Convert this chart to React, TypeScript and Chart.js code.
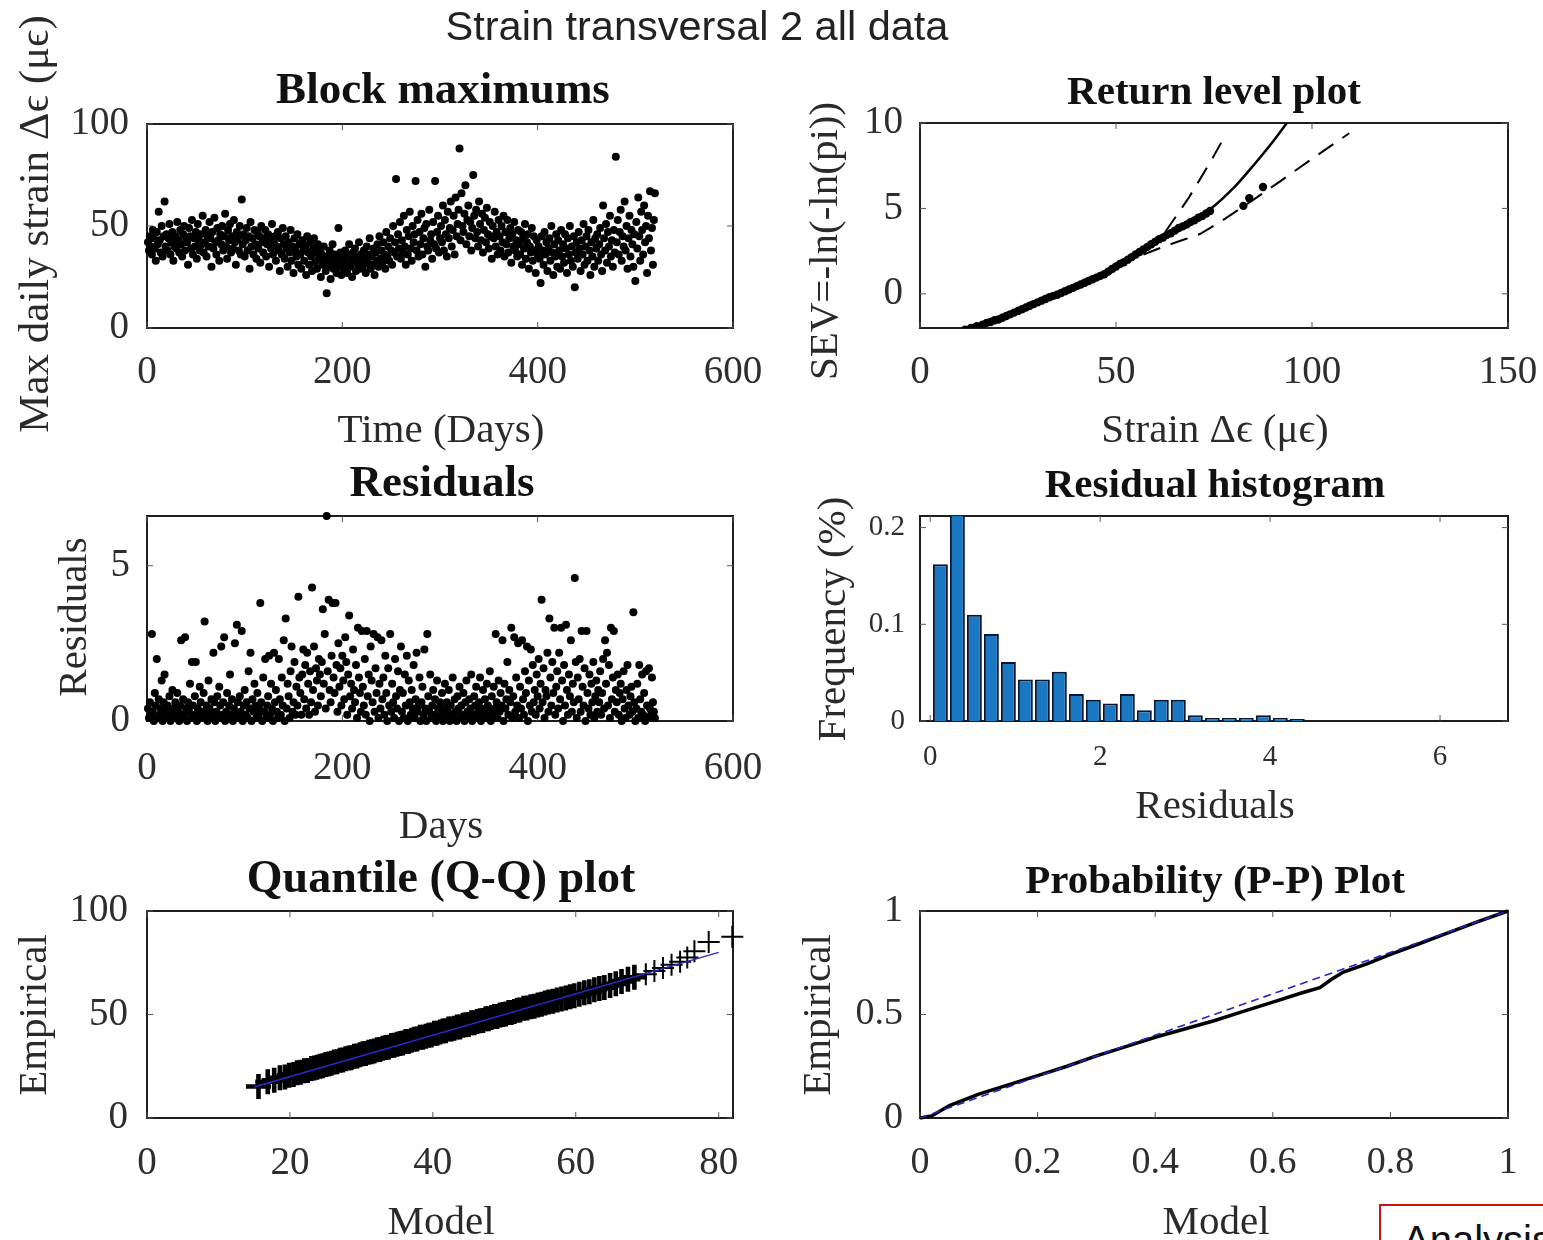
import React, { useEffect, useRef } from 'react';
import { Chart, registerables } from 'chart.js';

Chart.register(...registerables);

const SERIF = '"Liberation Serif", "Times New Roman", Times, serif';
const SANS = '"Liberation Sans", Arial, Helvetica, sans-serif';
const TICK_COLOR = '#2e2e2e';
const LABEL_COLOR = '#2a2a2a';

// ---------------- Block maximums (max daily strain per day) ----------------
const blockMaxValues: number[] = [
  42,38,45,40,36,48,44,39,33,47,41,57,43,37,50,35,45,62,40,46,
  38,44,51,36,42,47,33,40,45,39,52,43,37,48,41,35,46,50,38,44,
  42,31,49,45,39,53,36,44,40,47,34,51,43,38,46,41,55,37,42,48,
  35,45,40,52,44,30,47,39,54,42,36,49,43,33,46,41,50,38,45,56,
  40,34,48,43,51,37,45,39,53,42,31,47,44,38,50,36,63,41,46,35,
  43,49,38,45,29,52,40,44,36,48,41,34,47,39,45,32,50,42,37,44,
  48,35,41,46,30,43,39,51,36,42,45,33,40,47,38,28,44,36,49,41,
  34,45,39,30,42,37,48,33,40,27,44,38,35,46,31,41,36,29,43,38,
  33,40,26,45,37,31,42,35,28,39,44,32,37,29,41,34,38,25,36,31,
  40,33,28,17,35,30,38,24,33,41,29,36,31,27,34,49,30,37,26,32,
  35,29,38,32,27,36,41,30,34,25,37,33,39,28,35,31,42,29,36,33,
  30,38,34,27,40,32,36,44,29,35,31,39,26,37,33,41,30,45,34,38,
  32,42,36,29,47,35,40,33,44,38,31,50,37,42,73,35,46,39,52,34,
  43,37,55,40,31,48,36,45,57,39,33,50,42,46,72,38,53,35,47,41,
  56,36,44,49,30,51,40,38,58,43,46,34,52,41,72,39,47,55,37,44,
  50,42,60,38,53,46,35,57,44,49,62,40,48,55,36,64,45,51,58,88,
  43,66,50,47,56,70,41,53,60,45,52,38,49,75,55,44,58,47,40,62,
  51,43,56,37,48,54,42,59,46,39,52,45,34,50,44,57,40,47,36,53,
  45,38,50,42,55,35,47,41,53,37,44,49,32,46,40,52,38,43,35,48,
  41,36,47,31,44,39,51,34,42,46,29,40,37,49,33,45,38,27,43,36,
  40,34,22,45,38,31,47,36,42,28,39,44,33,50,37,26,41,35,46,30,
  43,38,29,48,35,41,32,46,39,27,44,36,50,33,40,30,45,20,37,42,
  34,47,39,28,43,36,51,31,40,45,33,48,38,26,42,35,53,30,44,39,
  46,33,41,49,36,28,60,44,38,51,32,47,40,55,35,43,30,48,37,84,
  42,53,36,47,58,33,45,40,62,38,50,29,44,55,35,48,41,30,46,23,
  52,39,64,45,33,57,48,36,60,42,50,27,55,44,67,38,49,31,53,66,
];

// ---------------- Residuals per day ----------------
const residualValues: number[] = [
  0.4,0.1,0.6,0.2,2.8,0.3,0.0,0.9,0.5,2.0,0.1,0.7,0.2,0.4,1.3,0.0,0.6,1.5,0.3,0.1,
  0.5,0.2,0.8,0.0,0.3,1.0,0.4,0.1,0.6,0.2,0.9,0.3,0.0,0.5,2.6,0.2,0.7,0.1,2.7,0.4,
  0.0,0.6,0.3,1.2,0.1,1.9,0.5,0.2,0.8,1.9,0.0,0.4,0.2,1.1,0.6,0.1,0.3,0.9,3.2,0.2,
  0.5,0.0,1.3,0.4,0.1,0.7,0.2,2.2,0.6,0.0,0.3,0.8,0.1,1.1,0.5,2.4,0.2,0.6,2.7,0.0,
  0.3,0.9,0.1,0.5,1.5,0.2,0.7,0.0,0.4,2.5,0.2,3.1,0.6,0.1,0.8,0.3,2.9,0.0,0.5,1.0,
  0.2,0.6,0.1,1.6,0.4,2.2,0.0,0.7,0.3,1.2,0.5,0.1,0.9,0.2,0.4,3.8,0.6,0.0,1.4,0.3,
  2.0,0.1,0.5,0.8,2.1,0.2,1.2,0.4,0.0,2.2,0.6,1.0,0.3,0.1,2.0,0.7,0.2,1.4,0.5,2.6,
  0.0,3.3,0.4,1.2,0.8,0.1,1.6,2.4,0.3,0.6,1.9,0.2,1.1,0.5,4.0,1.4,0.9,0.2,1.5,2.3,
  0.7,1.8,0.4,2.2,1.2,0.2,1.6,0.6,4.3,1.0,2.4,0.3,1.7,1.3,0.5,2.0,1.5,0.8,1.9,3.6,
  1.2,2.8,0.4,6.6,1.6,3.9,1.0,0.6,2.1,3.8,1.4,0.9,3.8,1.8,0.3,2.5,1.1,1.7,0.5,2.1,
  1.3,0.7,2.7,1.9,0.2,1.5,3.4,0.8,1.2,0.4,2.3,1.0,0.6,1.8,0.1,3.0,1.4,0.9,0.3,2.9,
  1.1,0.5,2.0,0.2,2.9,0.8,1.5,0.0,2.4,1.3,0.6,2.8,0.3,1.7,0.9,2.7,0.1,1.2,0.4,2.6,
  0.7,1.4,0.2,2.1,0.9,0.0,1.7,0.5,2.8,0.3,1.2,0.6,0.1,2.0,0.8,0.4,1.6,0.0,1.0,2.4,
  0.3,0.9,0.1,1.5,0.5,2.1,0.0,1.3,0.6,0.2,1.0,0.4,1.8,0.1,0.7,2.2,0.3,0.5,1.4,0.0,
  0.6,1.1,0.2,2.3,0.4,0.0,2.8,0.8,0.3,1.5,0.1,0.5,1.0,0.2,0.7,0.0,1.3,0.4,0.1,0.6,
  0.2,0.9,0.0,0.4,1.2,0.1,0.6,0.3,1.0,0.0,0.5,0.2,1.4,0.1,0.7,0.3,0.0,0.8,0.4,1.1,
  0.1,0.5,0.2,0.9,0.0,0.6,1.3,0.3,0.1,0.7,0.4,1.5,0.0,0.2,0.8,0.5,1.1,0.1,0.3,0.6,
  1.4,0.0,0.4,1.0,0.2,0.7,0.1,1.2,0.5,0.3,1.6,0.0,0.8,0.2,1.1,0.4,2.8,0.6,0.1,1.3,
  0.3,0.9,0.5,2.6,0.0,1.2,0.4,0.7,1.9,0.2,1.0,0.6,3.0,0.1,0.8,2.7,0.3,1.4,0.5,2.5,
  0.1,1.1,0.4,2.6,0.7,0.2,1.6,0.9,2.4,0.0,1.3,0.5,2.3,0.3,1.8,0.6,1.0,0.2,1.5,0.8,
  2.0,0.4,1.2,3.9,0.6,1.7,0.1,1.0,0.8,2.2,0.3,3.3,1.4,0.5,1.9,0.9,3.0,0.2,1.1,1.6,
  0.4,2.2,0.7,3.0,1.3,0.0,1.8,0.5,3.1,1.0,0.2,1.5,0.8,2.6,0.3,1.2,0.6,4.6,1.9,0.1,
  1.4,0.7,2.0,0.3,2.9,1.1,0.5,1.7,0.0,2.9,0.9,0.4,1.5,0.2,1.2,0.6,1.9,0.1,0.8,1.3,
  0.3,1.0,0.6,1.6,0.2,0.9,2.0,0.4,2.6,1.2,2.2,0.5,1.8,0.1,3.0,0.7,1.4,2.9,0.3,1.0,
  0.6,1.5,0.2,0.9,1.2,0.0,0.7,1.6,0.4,0.1,1.0,1.8,0.5,0.2,0.8,1.1,0.3,3.5,0.6,0.0,
  0.4,1.2,0.1,1.8,0.7,0.3,1.5,0.2,0.9,0.0,1.6,0.5,0.1,1.7,0.4,0.2,1.4,0.6,0.3,0.1,
];

// ---------------- Return level plot ----------------
const rlEmpX: number[] = [11.5,13,14.5,16,17,18,19,20,21,22,23,24,25,26,27,28,29,30,31,32,33,34,35,36,37,38,39,40,41,42,43,44,45,46,47,48,49,50,51,52,53,54,55,56,57,58,59,60,61,62,63,64,65,66,67,68,69,70,71,72,73,74,82.5,84,87.5];
const rlEmpY: number[] = [-2.1,-2.0,-1.9,-1.8,-1.7,-1.65,-1.55,-1.5,-1.4,-1.3,-1.2,-1.1,-1.0,-0.9,-0.8,-0.7,-0.6,-0.5,-0.4,-0.3,-0.2,-0.12,-0.05,0.05,0.15,0.25,0.35,0.45,0.55,0.65,0.75,0.85,0.95,1.05,1.15,1.3,1.45,1.6,1.75,1.85,2.0,2.15,2.3,2.45,2.6,2.75,2.9,3.05,3.2,3.3,3.45,3.55,3.7,3.85,3.95,4.05,4.2,4.3,4.45,4.55,4.7,4.85,5.15,5.6,6.25];
const rlFitX: number[] = [10.5,20,30,40,50,60,67,74,80,85,90,95.5];
const rlFitY: number[] = [-2.2,-1.5,-0.55,0.45,1.6,3.0,3.95,4.95,6.2,7.5,8.9,10.6];
const rlUpperX: number[] = [57,60,62.5,65.8,68.5,71.4,74.3,77.2];
const rlUpperY: number[] = [2.55,3.1,3.6,4.7,5.6,6.7,7.8,9.0];
const rlLowerX: number[] = [57,62,67,71.4,76.5,85,92.6,100,109.5];
const rlLowerY: number[] = [2.3,2.75,3.15,3.5,4.2,5.5,6.7,7.9,9.4];

// ---------------- Residual histogram ----------------
const histCenters: number[] = [0.12,0.32,0.52,0.72,0.92,1.12,1.32,1.52,1.72,1.92,2.12,2.32,2.52,2.72,2.92,3.12,3.32,3.52,3.72,3.92,4.12,4.32];
const histFreq: number[] = [0.162,0.235,0.110,0.090,0.061,0.043,0.043,0.051,0.028,0.022,0.018,0.028,0.011,0.022,0.022,0.006,0.003,0.003,0.003,0.006,0.003,0.002];

// ---------------- Q-Q plot ----------------
const qqModel: number[] = [15.6,16.9,17.8,18.6,19.3,19.9,20.5,21.0,21.5,22.0,22.5,23.0,23.4,23.8,24.2,24.6,25.0,25.4,25.8,26.2,26.6,27.0,27.4,27.8,28.2,28.6,29.0,29.4,29.8,30.2,30.6,31.0,31.4,31.8,32.2,32.6,33.0,33.4,33.8,34.2,34.6,35.0,35.4,35.8,36.2,36.6,37.0,37.4,37.8,38.2,38.6,39.0,39.4,39.8,40.2,40.6,41.0,41.4,41.8,42.2,42.6,43.0,43.4,43.8,44.2,44.6,45.0,45.4,45.8,46.2,46.6,47.0,47.4,47.8,48.2,48.6,49.0,49.4,49.8,50.2,50.6,51.0,51.4,51.8,52.2,52.7,53.2,53.7,54.2,54.7,55.2,55.7,56.2,56.8,57.4,58.0,58.6,59.2,59.8,60.5,61.2,61.9,62.6,63.3,64.0,64.8,65.6,66.4,67.3,68.2,69.8,71.0,72.2,73.4,74.6,75.6,76.6,78.6,81.9];
const qqEmpirical: number[] = [15.2,17.5,18.2,19.4,19.8,20.6,21.0,21.9,22.1,22.8,23.0,23.9,24.1,24.5,25.0,25.2,25.9,26.1,26.5,27.0,27.2,27.9,28.0,28.6,29.0,29.1,29.8,30.0,30.5,31.0,31.1,31.8,32.0,32.4,33.0,33.1,33.7,34.0,34.2,35.0,35.1,35.6,36.0,36.2,37.0,37.0,37.6,38.0,38.2,39.0,39.0,39.5,40.0,40.1,41.0,41.0,41.5,42.0,42.1,43.0,43.0,43.4,44.0,44.0,44.8,45.0,45.2,46.0,46.0,46.6,47.0,47.1,47.9,48.0,48.5,49.0,49.0,49.7,50.0,50.2,51.0,51.0,51.5,52.0,52.2,53.0,53.1,53.8,54.0,54.6,55.0,55.5,56.0,56.4,57.0,57.5,58.0,58.6,59.0,59.8,60.5,61.0,62.0,62.6,63.0,64.0,64.8,66.0,67.0,68.0,69.5,71.0,72.5,74.0,75.5,77.5,80.5,85.0,87.6];
const qqRefX: number[] = [15, 80];
const qqRefY: number[] = [15, 80];

// ---------------- P-P plot ----------------
const ppModel: number[] = [0,0.02,0.05,0.1,0.15,0.2,0.25,0.3,0.35,0.4,0.45,0.5,0.55,0.6,0.65,0.68,0.7,0.72,0.76,0.8,0.85,0.9,0.95,1];
const ppEmpirical: number[] = [0,0.01,0.06,0.115,0.16,0.205,0.25,0.3,0.345,0.39,0.43,0.47,0.515,0.56,0.605,0.63,0.67,0.705,0.745,0.79,0.843,0.897,0.95,1];
const ppRefX: number[] = [0, 1];
const ppRefY: number[] = [0, 1];

// ---------------- Tick labels ----------------
const ticksDays: number[] = [0, 200, 400, 600];
const ticksStrainMax: number[] = [0, 50, 100];
const ticksStrain: number[] = [0, 50, 100, 150];
const ticksSEV: number[] = [0, 5, 10];
const ticksResid: number[] = [0, 5];
const ticksHistX: number[] = [0, 2, 4, 6];
const ticksHistY: number[] = [0, 0.1, 0.2];
const ticksQQX: number[] = [0, 20, 40, 60, 80];
const ticksQQY: number[] = [0, 50, 100];
const ticksPPX: number[] = [0, 0.2, 0.4, 0.6, 0.8, 1];
const ticksPPY: number[] = [0, 0.5, 1];

const pts = (xs: number[], ys: number[]) => xs.map((x, i) => ({ x, y: ys[i] }));
const days = blockMaxValues.map((_, i) => i + 1);
const residDays = residualValues.map((_, i) => i + 1);

type Spec = {
  key: string;
  canvas: { x: number; y: number; w: number; h: number };
  area: { L: number; T: number; R: number; B: number };
  type: 'scatter' | 'bar';
  datasets: any[];
  xRange: [number, number];
  xTicks: number[];
  yRange: [number, number];
  yTicks: number[];
  tickSize: number;
  xTickPad: number;
  yTickPad: number;
  title: string;
  titleSize: number;
  titlePos: [number, number];
  xLabel: string;
  xLabelPos: [number, number];
  yLabel: string;
  yLabelPos: [number, number];
  labelSize: number;
  yLabelSize?: number;
};

const YW = 100;
const XH = 70;

const dotSet = (data: any[]) => ({
  data,
  showLine: false,
  pointRadius: 4,
  pointHoverRadius: 4,
  pointBackgroundColor: '#000',
  pointBorderWidth: 0,
  clip: false,
});

const specs: Spec[] = [
  {
    key: 'block',
    canvas: { x: 0, y: 0, w: 800, h: 455 },
    area: { L: 147, T: 124, R: 733, B: 328 },
    type: 'scatter',
    datasets: [dotSet(pts(days, blockMaxValues))],
    xRange: [0, 600], xTicks: ticksDays,
    yRange: [0, 100], yTicks: ticksStrainMax,
    tickSize: 39, xTickPad: 21, yTickPad: 18,
    title: 'Block maximums', titleSize: 45, titlePos: [443, 103],
    xLabel: 'Time (Days)', xLabelPos: [441, 442],
    yLabel: 'Max daily strain \u0394\u03F5 (\u03BC\u03F5)', yLabelPos: [48, 224],
    labelSize: 41, yLabelSize: 43,
  },
  {
    key: 'return',
    canvas: { x: 775, y: 0, w: 800, h: 455 },
    area: { L: 920, T: 123, R: 1508, B: 328 },
    type: 'scatter',
    datasets: [
      { data: pts(rlEmpX, rlEmpY), showLine: false, pointRadius: 4.2, pointBackgroundColor: '#000', pointBorderWidth: 0 },
      { data: pts(rlFitX, rlFitY), showLine: true, borderColor: '#000', borderWidth: 2.5, pointRadius: 0, tension: 0.3 },
      { data: pts(rlUpperX, rlUpperY), showLine: true, borderColor: '#000', borderWidth: 2, borderDash: [18, 11], pointRadius: 0 },
      { data: pts(rlLowerX, rlLowerY), showLine: true, borderColor: '#000', borderWidth: 2, borderDash: [18, 11], pointRadius: 0 },
    ],
    xRange: [0, 150], xTicks: ticksStrain,
    yRange: [-2, 10], yTicks: ticksSEV,
    tickSize: 39, xTickPad: 21, yTickPad: 17,
    title: 'Return level plot', titleSize: 41, titlePos: [1214, 104],
    xLabel: 'Strain \u0394\u03F5 (\u03BC\u03F5)', xLabelPos: [1215, 442],
    yLabel: 'SEV=-ln(-ln(pi))', yLabelPos: [837, 241],
    labelSize: 41,
  },
  {
    key: 'resid',
    canvas: { x: 0, y: 455, w: 800, h: 395 },
    area: { L: 147, T: 516, R: 733, B: 721 },
    type: 'scatter',
    datasets: [dotSet(pts(residDays, residualValues))],
    xRange: [0, 600], xTicks: ticksDays,
    yRange: [0, 6.6], yTicks: ticksResid,
    tickSize: 39, xTickPad: 24, yTickPad: 17,
    title: 'Residuals', titleSize: 45, titlePos: [442, 496],
    xLabel: 'Days', xLabelPos: [441, 838],
    yLabel: 'Residuals', yLabelPos: [86, 617],
    labelSize: 41,
  },
  {
    key: 'hist',
    canvas: { x: 775, y: 455, w: 800, h: 395 },
    area: { L: 920, T: 516, R: 1508, B: 721 },
    type: 'bar',
    datasets: [
      {
        data: pts(histCenters, histFreq),
        backgroundColor: '#1a78c2',
        borderColor: '#0a1530',
        borderWidth: 2,
        barPercentage: 0.88,
        categoryPercentage: 1,
      },
    ],
    xRange: [-0.12, 6.8], xTicks: ticksHistX,
    yRange: [0, 0.212], yTicks: ticksHistY,
    tickSize: 29, xTickPad: 19, yTickPad: 15,
    title: 'Residual histogram', titleSize: 41, titlePos: [1215, 497],
    xLabel: 'Residuals', xLabelPos: [1215, 818],
    yLabel: 'Frequency (%)', yLabelPos: [845, 619],
    labelSize: 41,
  },
  {
    key: 'qq',
    canvas: { x: 0, y: 850, w: 800, h: 390 },
    area: { L: 147, T: 911, R: 733, B: 1118 },
    type: 'scatter',
    datasets: [
      { data: pts(qqRefX, qqRefY), showLine: true, borderColor: '#2a2ad0', borderWidth: 1.5, pointRadius: 0 },
      {
        data: pts(qqModel, qqEmpirical),
        showLine: false,
        pointStyle: 'cross',
        pointRadius: (c: any) => (c.raw && c.raw.x > 69 ? 11 : 12.5),
        pointBorderColor: '#000',
        pointBorderWidth: (c: any) => (c.raw && c.raw.x > 69 ? 2 : 4.6),
        clip: false,
      },
    ],
    xRange: [0, 82], xTicks: ticksQQX,
    yRange: [0, 100], yTicks: ticksQQY,
    tickSize: 39, xTickPad: 22, yTickPad: 19,
    title: 'Quantile (Q-Q) plot', titleSize: 46, titlePos: [441, 892],
    xLabel: 'Model', xLabelPos: [441, 1234],
    yLabel: 'Empirical', yLabelPos: [46, 1015],
    labelSize: 41,
  },
  {
    key: 'pp',
    canvas: { x: 775, y: 850, w: 800, h: 390 },
    area: { L: 920, T: 911, R: 1508, B: 1118 },
    type: 'scatter',
    datasets: [
      { data: pts(ppRefX, ppRefY), showLine: true, borderColor: '#2424c8', borderWidth: 1.6, borderDash: [8, 5], pointRadius: 0 },
      { data: pts(ppModel, ppEmpirical), showLine: true, borderColor: '#000', borderWidth: 3.5, pointRadius: 0, clip: false },
    ],
    xRange: [0, 1], xTicks: ticksPPX,
    yRange: [0, 1], yTicks: ticksPPY,
    tickSize: 38, xTickPad: 22, yTickPad: 17,
    title: 'Probability (P-P) Plot', titleSize: 41, titlePos: [1215, 893],
    xLabel: 'Model', xLabelPos: [1216, 1234],
    yLabel: 'Empirical', yLabelPos: [830, 1015],
    labelSize: 41,
  },
];

function axisOptions(spec: Spec, isX: boolean) {
  const range = isX ? spec.xRange : spec.yRange;
  const ticks = isX ? spec.xTicks : spec.yTicks;
  return {
    type: 'linear',
    position: isX ? 'bottom' : 'left',
    min: range[0],
    max: range[1],
    offset: false,
    afterBuildTicks: (s: any) => {
      s.ticks = ticks.map((v) => ({ value: v }));
    },
    afterFit: (s: any) => {
      if (isX) s.height = XH;
      else s.width = YW;
    },
    grid: { display: false, drawTicks: false },
    border: { display: false },
    ticks: {
      autoSkip: false,
      maxRotation: 0,
      minRotation: 0,
      padding: isX ? spec.xTickPad : spec.yTickPad,
      color: TICK_COLOR,
      font: { family: SERIF, size: spec.tickSize },
      callback: (v: any) => String(v),
    },
  };
}

function decorPlugin(spec: Spec) {
  return {
    id: 'decor_' + spec.key,
    beforeDatasetsDraw(chart: any) {
      const { ctx, chartArea: a, scales } = chart;
      ctx.save();
      ctx.strokeStyle = '#1e1e1e';
      ctx.lineWidth = 2;
      ctx.strokeRect(a.left, a.top, a.right - a.left, a.bottom - a.top);
      ctx.strokeStyle = '#555';
      ctx.lineWidth = 1;
      ctx.beginPath();
      for (const v of spec.xTicks) {
        const px = scales.x.getPixelForValue(v);
        ctx.moveTo(px, a.bottom);
        ctx.lineTo(px, a.bottom - 6);
        ctx.moveTo(px, a.top);
        ctx.lineTo(px, a.top + 6);
      }
      for (const v of spec.yTicks) {
        const py = scales.y.getPixelForValue(v);
        ctx.moveTo(a.left, py);
        ctx.lineTo(a.left + 6, py);
        ctx.moveTo(a.right, py);
        ctx.lineTo(a.right - 6, py);
      }
      ctx.stroke();
      ctx.restore();
    },
    afterDraw(chart: any) {
      const ctx = chart.ctx;
      const ox = spec.canvas.x;
      const oy = spec.canvas.y;
      ctx.save();
      ctx.textAlign = 'center';
      ctx.textBaseline = 'alphabetic';
      ctx.fillStyle = '#111';
      ctx.font = `bold ${spec.titleSize}px ${SERIF}`;
      ctx.fillText(spec.title, spec.titlePos[0] - ox, spec.titlePos[1] - oy);
      ctx.fillStyle = LABEL_COLOR;
      ctx.font = `${spec.labelSize}px ${SERIF}`;
      ctx.fillText(spec.xLabel, spec.xLabelPos[0] - ox, spec.xLabelPos[1] - oy);
      ctx.font = `${spec.yLabelSize || spec.labelSize}px ${SERIF}`;
      ctx.translate(spec.yLabelPos[0] - ox, spec.yLabelPos[1] - oy);
      ctx.rotate(-Math.PI / 2);
      ctx.fillText(spec.yLabel, 0, 0);
      ctx.restore();
    },
  };
}

function buildConfig(spec: Spec): any {
  const { canvas: c, area: a } = spec;
  return {
    type: spec.type,
    data: { datasets: spec.datasets },
    options: {
      animation: false,
      responsive: false,
      maintainAspectRatio: false,
      devicePixelRatio: 1,
      events: [],
      layout: {
        padding: {
          left: a.L - c.x - YW,
          top: a.T - c.y,
          right: c.x + c.w - a.R,
          bottom: c.y + c.h - a.B - XH,
        },
      },
      plugins: {
        legend: { display: false },
        tooltip: { enabled: false },
        title: { display: false },
      },
      scales: {
        x: axisOptions(spec, true),
        y: axisOptions(spec, false),
      },
    },
    plugins: [decorPlugin(spec)],
  };
}

function Panel({ spec }: { spec: Spec }) {
  const ref = useRef<HTMLCanvasElement | null>(null);
  useEffect(() => {
    if (!ref.current) return;
    const chart = new Chart(ref.current, buildConfig(spec));
    return () => chart.destroy();
  }, [spec]);
  return (
    <canvas
      ref={ref}
      width={spec.canvas.w}
      height={spec.canvas.h}
      style={{
        position: 'absolute',
        left: spec.canvas.x,
        top: spec.canvas.y,
        width: spec.canvas.w,
        height: spec.canvas.h,
      }}
    />
  );
}

export default function App() {
  return (
    <div
      style={{
        position: 'absolute',
        left: 0,
        top: 0,
        width: 1543,
        height: 1240,
        overflow: 'hidden',
        background: '#fff',
      }}
    >
      {specs.map((s) => (
        <Panel key={s.key} spec={s} />
      ))}
      <div
        style={{
          position: 'absolute',
          left: 0,
          width: 1394,
          top: 5,
          textAlign: 'center',
          fontFamily: SANS,
          fontSize: 41.5,
          lineHeight: '41px',
          color: '#222',
          whiteSpace: 'nowrap',
          zIndex: 2,
        }}
      >
        Strain transversal 2 all data
      </div>
      <div
        style={{
          position: 'absolute',
          left: 1379,
          top: 1204,
          width: 220,
          height: 80,
          border: '2px solid #cc1111',
          background: '#fff',
          overflow: 'hidden',
          zIndex: 3,
        }}
      >
        <div
          style={{
            position: 'absolute',
            left: 22,
            top: 14,
            fontFamily: SANS,
            fontSize: 40,
            lineHeight: '40px',
            color: '#111',
            whiteSpace: 'nowrap',
          }}
        >
          Analysis
        </div>
      </div>
    </div>
  );
}
